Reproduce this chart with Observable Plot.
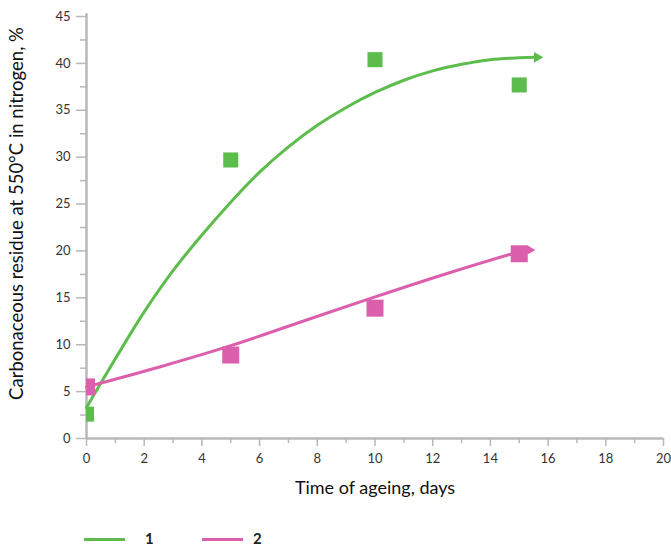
<!DOCTYPE html>
<html>
<head>
<meta charset="utf-8">
<script src="https://cdn.jsdelivr.net/npm/d3@7"></script>
<script src="https://cdn.jsdelivr.net/npm/@observablehq/plot@0.6"></script>
<style>
  html, body { margin: 0; padding: 0; background: #fff; }
  #wrap { position: relative; width: 671px; height: 547px; font-family: Lato, "Open Sans", sans-serif; }
  .leg-line { position: absolute; height: 3px; }
  .leg-text { position: absolute; font-size: 15px; font-weight: bold; color: #222; line-height: 1; }
</style>
</head>
<body>
<div id="wrap">
  <div id="chart"></div>
</div>
<script>
// Measured points (time of ageing, days -> carbonaceous residue, %)
const days = [0, 5, 10, 15];
const series1 = [2.6, 29.7, 40.4, 37.7];
const series2 = [5.5, 8.9, 13.9, 19.7];

// Trend curves
const trend1X = [0, 1, 2, 3, 4, 5, 6, 7, 8, 9, 10, 11, 12, 13, 14, 15, 15.55];
const trend1Y = [3.3, 8.5, 13.5, 17.9, 21.7, 25.2, 28.4, 31.1, 33.4, 35.3, 36.9, 38.2, 39.2, 39.9, 40.4, 40.6, 40.65];
const trend2X = [0, 2.5, 5, 7.5, 10, 12.5, 15, 15.3];
const trend2Y = [5.5, 7.6, 9.9, 12.5, 15.1, 17.6, 19.9, 20.1];

const seriesNames = ["1", "2"];
const colors = ["#5dbd4c", "#dc5fad"];
const yTicks = [0, 5, 10, 15, 20, 25, 30, 35, 40, 45];
const yMinor = [2.5, 7.5, 12.5, 17.5, 22.5, 27.5, 32.5, 37.5, 42.5];
const xTicks = [0, 2, 4, 6, 8, 10, 12, 14, 16, 18, 20];
const xMinor = [1, 3, 5, 7, 9, 11, 13, 15, 17, 19];
const xLabel = "Time of ageing, days";
const yLabel = "Carbonaceous residue at 550°C in nitrogen, %";

const pts1 = days.map((d, i) => ({x: d, y: series1[i]}));
const pts2 = days.map((d, i) => ({x: d, y: series2[i]}));
const tr1 = trend1X.map((d, i) => ({x: d, y: trend1Y[i]}));
const tr2 = trend2X.map((d, i) => ({x: d, y: trend2Y[i]}));

const axisColor = "#b8b8b8";

const plot = Plot.plot({
  width: 671,
  height: 505,
  marginLeft: 86,
  marginRight: 8,
  marginTop: 16,
  marginBottom: 67,
  style: {fontFamily: "Lato, 'Open Sans', sans-serif", fontSize: "13px", color: "#333", background: "#fff"},
  x: {domain: [0, 20]},
  y: {domain: [0, 45]},
  marks: [
    Plot.axisY(yTicks, {tickSize: 10, tickPadding: 6, stroke: axisColor, strokeWidth: 1.5, fill: "#333", fontSize: 13, label: null}),
    Plot.axisY(yMinor, {tickSize: 6, stroke: axisColor, strokeWidth: 1.5, tickFormat: () => "", label: null}),
    Plot.axisX(xTicks, {tickSize: 8, tickPadding: 7, stroke: axisColor, strokeWidth: 1.5, fill: "#333", fontSize: 13, label: null}),
    Plot.axisX(xMinor, {tickSize: 5, stroke: axisColor, strokeWidth: 1.5, tickFormat: () => "", label: null}),
    Plot.ruleX([0], {y1: 0, y2: 45.3, stroke: axisColor, strokeWidth: 2.5}),
    Plot.ruleY([0], {x1: 0, x2: 20, stroke: axisColor, strokeWidth: 2.5}),
    Plot.line(tr1, {x: "x", y: "y", stroke: colors[0], strokeWidth: 3, curve: "catmull-rom"}),
    Plot.line(tr2, {x: "x", y: "y", stroke: colors[1], strokeWidth: 3, curve: "catmull-rom"}),
    Plot.dot(tr1.slice(-1), {x: "x", y: "y", symbol: "triangle", rotate: 90, r: 4, fill: colors[0], dx: 2}),
    Plot.dot(tr2.slice(-1), {x: "x", y: "y", symbol: "triangle", rotate: 90, r: 3.5, fill: colors[1], dx: 2}),
    Plot.dot(pts1, {x: "x", y: "y", symbol: "square", r: 8.5, fill: colors[0], clip: true}),
    Plot.dot(pts2, {x: "x", y: "y", symbol: "square", r: 9.6, fill: colors[1], clip: true}),
    Plot.text([xLabel], {frameAnchor: "bottom", dy: 55, fontSize: 18, fill: "#111", textAnchor: "middle"}),
    Plot.text([yLabel], {frameAnchor: "left", dx: -69, dy: -14, rotate: -90, fontSize: 18.5, fill: "#111", textAnchor: "middle"})
  ]
});
document.getElementById("chart").appendChild(plot);

// Legend below the SVG
const wrap = document.getElementById("wrap");
const legendItems = [
  {line: [84, 125], text: 145},
  {line: [202, 243], text: 253}
];
legendItems.forEach((it, i) => {
  const l = document.createElement("div");
  l.className = "leg-line";
  l.style.left = it.line[0] + "px";
  l.style.width = (it.line[1] - it.line[0]) + "px";
  l.style.top = "538px";
  l.style.background = colors[i];
  wrap.appendChild(l);
  const t = document.createElement("div");
  t.className = "leg-text";
  t.style.left = it.text + "px";
  t.style.top = "531px";
  t.textContent = seriesNames[i];
  wrap.appendChild(t);
});
</script>
</body>
</html>
